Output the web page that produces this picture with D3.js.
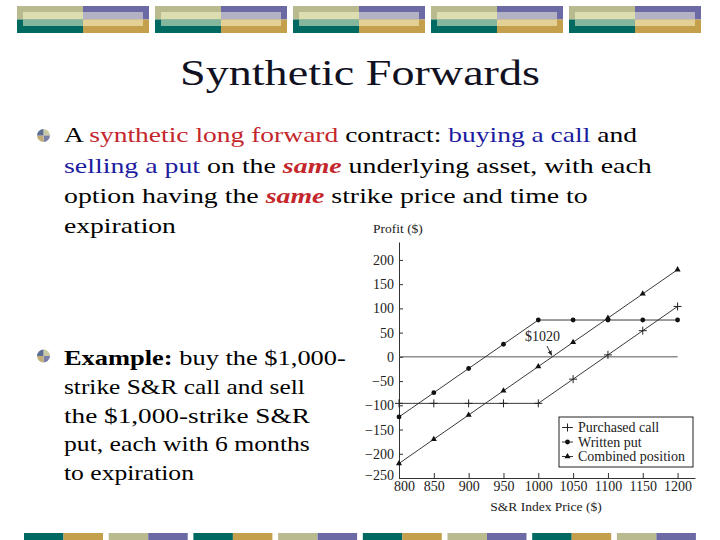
<!DOCTYPE html>
<html>
<head>
<meta charset="utf-8">
<script src="https://cdn.jsdelivr.net/npm/d3@7"></script>
<style>
body { margin: 0; background: #fff; }
svg { display: block; }
</style>
</head>
<body>
<script>
// data
var prices = [800, 850, 900, 950, 1000, 1050, 1100, 1150, 1200];
var purchasedCall = [-96, -96, -96, -96, -96, -46, 4, 54, 104];
var writtenPut = [-124, -74, -24, 26, 76, 76, 76, 76, 76];
var combinedPos = [-220, -170, -120, -70, -20, 30, 80, 130, 180];
var yTicks = [-250, -200, -150, -100, -50, 0, 50, 100, 150, 200];
var xTicks = [800, 850, 900, 950, 1000, 1050, 1100, 1150, 1200];
var legendLabels = ["Purchased call", "Written put", "Combined position"];
var breakEven = 1020;

var svgWidth = 720, svgHeight = 540;
var svg = d3.select("body").append("svg")
    .attr("width", svgWidth).attr("height", svgHeight);
svg.append("rect").attr("width", svgWidth).attr("height", svgHeight).attr("fill", "#fff");

var serif = "Liberation Serif";

// top decoration bar
var deco = svg.append("g");
d3.range(5).forEach(function(i) {
    var x0 = 17 + i * 138;
    deco.append("rect").attr("x", x0).attr("y", 6).attr("width", 66).attr("height", 13.5).attr("fill", "#b9ba8e");
    deco.append("rect").attr("x", x0).attr("y", 19.5).attr("width", 66).attr("height", 13.5).attr("fill", "#006a62");
    deco.append("rect").attr("x", x0 + 66).attr("y", 6).attr("width", 66).attr("height", 13.5).attr("fill", "#6b6aa5");
    deco.append("rect").attr("x", x0 + 66).attr("y", 19.5).attr("width", 66).attr("height", 13.5).attr("fill", "#c4a04c");
    deco.append("rect").attr("x", x0 + 6).attr("y", 12).attr("width", 60).attr("height", 7.5).attr("fill", "#dcdeb0");
    deco.append("rect").attr("x", x0 + 6).attr("y", 19.5).attr("width", 60).attr("height", 6.5).attr("fill", "#84b69e");
    deco.append("rect").attr("x", x0 + 66).attr("y", 12).attr("width", 60).attr("height", 7.5).attr("fill", "#b3b2c4");
    deco.append("rect").attr("x", x0 + 66).attr("y", 19.5).attr("width", 60).attr("height", 6.5).attr("fill", "#e2d094");
});

// bottom decoration bar
d3.range(8).forEach(function(i) {
    var x0 = 24 + i * 84.7;
    var c = i % 2 === 0 ? ["#006a62", "#c4a04c"] : ["#b9ba8e", "#6b6aa5"];
    deco.append("rect").attr("x", x0).attr("y", 533).attr("width", 39.5).attr("height", 7).attr("fill", c[0]);
    deco.append("rect").attr("x", x0 + 39.5).attr("y", 533).attr("width", 39.5).attr("height", 7).attr("fill", c[1]);
});

// title
svg.append("text")
    .attr("x", 180).attr("y", 85)
    .attr("textLength", 360).attr("lengthAdjust", "spacingAndGlyphs")
    .style("font-family", serif).style("font-size", "35px").attr("fill", "#111122")
    .text("Synthetic Forwards");

// bullets
function bullet(cx, cy) {
    var cols = ["#c9c9a4", "#7a7fa6", "#c2ad78", "#5d6e94"];
    var arc = d3.arc().innerRadius(0).outerRadius(6.5);
    var g = svg.append("g").attr("transform", "translate(" + cx + "," + cy + ")");
    [0, 1, 2, 3].forEach(function(k) {
        g.append("path")
            .attr("d", arc({startAngle: k * Math.PI / 2, endAngle: (k + 1) * Math.PI / 2}))
            .attr("fill", cols[k]);
    });
}
bullet(43.5, 135.5);
bullet(43.5, 356);

var red = "#c4262c", blue = "#1c1ca0";
var bodyLines = [
    [["A ", "#000"], ["synthetic long forward", red], [" contract: ", "#000"], ["buying a call", blue], [" and", "#000"]],
    [["selling a put", blue], [" on the ", "#000"], ["same", red, "it"], [" underlying asset, with each", "#000"]],
    [["option having the ", "#000"], ["same", red, "it"], [" strike price and time to", "#000"]],
    [["expiration", "#000"]]
];
var bodyBase = [142, 172.5, 203, 233];
var bodyWidth = [573, 588, 524, 112];
var exLines = [
    [["Example:", "#000", "b"], [" buy the $1,000-", "#000"]],
    [["strike S&R call and sell", "#000"]],
    [["the $1,000-strike S&R", "#000"]],
    [["put, each with 6 months", "#000"]],
    [["to expiration", "#000"]]
];
var exBase = [365, 394, 422.5, 451, 479.5];
var exWidth = [282, 241, 246, 246, 130];

// Century-Schoolbook-like width: stretch each line of Liberation Serif to the slide's width
function writeLines(lines, bases, widths) {
    lines.forEach(function(parts, i) {
        var t = svg.append("text")
            .attr("x", 0).attr("y", 0)
            .style("font-family", serif).style("font-size", "21px")
            .attr("xml:space", "preserve");
        parts.forEach(function(p) {
            var s = t.append("tspan").attr("fill", p[1]).text(p[0]);
            if (p[2] === "it") s.style("font-style", "italic").style("font-weight", "bold");
            if (p[2] === "b") s.style("font-weight", "bold");
        });
        var w = t.node().getComputedTextLength();
        t.attr("transform", "translate(64," + bases[i] + ") scale(" + (widths[i] / w) + ",1)");
    });
}
writeLines(bodyLines, bodyBase, bodyWidth);
writeLines(exLines, exBase, exWidth);

// chart
var chartFont = "Liberation Serif";
var xScale = d3.scaleLinear().domain([800, 1225]).range([399, 695]);
var yScale = d3.scaleLinear().domain([-250, 237]).range([478, 242]);
var chart = svg.append("g");

var bottomAxis = d3.axisBottom(xScale).tickValues(xTicks).tickFormat(d3.format("d"))
    .tickSize(-5).tickSizeOuter(0).tickPadding(3);
var leftAxis = d3.axisLeft(yScale).tickValues(yTicks).tickSize(-4).tickSizeOuter(0).tickPadding(5);

var xAxis = chart.append("g").attr("transform", "translate(0," + yScale(-250) + ")").call(bottomAxis);
var yAxis = chart.append("g").attr("transform", "translate(" + xScale(800) + ",0)").call(leftAxis);
[xAxis, yAxis].forEach(function(a) {
    a.selectAll("text").style("font-family", chartFont).style("font-size", "14px").attr("fill", "#222");
    a.selectAll("line, path").attr("stroke", "#333");
});
// first price label sits a little right of the axis corner, as on the slide
xAxis.selectAll(".tick text").filter(function(d) { return d === 800; }).attr("dx", 5);
yAxis.selectAll(".tick text").filter(function(d) { return d === -250; }).attr("dy", "0.1em");

// zero line
chart.append("line")
    .attr("x1", xScale(800)).attr("x2", xScale(1200))
    .attr("y1", yScale(0)).attr("y2", yScale(0))
    .attr("stroke", "#555").attr("stroke-width", 1);

var series = [purchasedCall, writtenPut, combinedPos];
var line = d3.line().x(function(d, i) { return xScale(prices[i]); }).y(function(d) { return yScale(d); });
series.forEach(function(vals) {
    chart.append("path").datum(vals)
        .attr("d", line).attr("fill", "none").attr("stroke", "#222")
        .attr("stroke-width", 0.9);
});

function marker(g, k, cx, cy) {
    if (k === 0) {
        g.append("path").attr("d", "M" + (cx - 4) + "," + cy + "H" + (cx + 4) + "M" + cx + "," + (cy - 4) + "V" + (cy + 4))
            .attr("stroke", "#222").attr("stroke-width", 1);
    } else if (k === 1) {
        g.append("circle").attr("cx", cx).attr("cy", cy).attr("r", 2.4).attr("fill", "#111");
    } else {
        g.append("path").attr("d", d3.symbol().type(d3.symbolTriangle).size(16)())
            .attr("transform", "translate(" + cx + "," + cy + ")").attr("fill", "#111");
    }
}
series.forEach(function(vals, k) {
    vals.forEach(function(v, i) { marker(chart, k, xScale(prices[i]), yScale(v)); });
});

// break-even annotation
svg.append("defs").append("marker")
    .attr("id", "arrow").attr("viewBox", "0 0 10 10").attr("refX", 9).attr("refY", 5)
    .attr("markerWidth", 6).attr("markerHeight", 6).attr("orient", "auto")
    .append("path").attr("d", "M0,1L10,5L0,9Z").attr("fill", "#222");
chart.append("text")
    .attr("x", 525).attr("y", 341)
    .style("font-family", chartFont).style("font-size", "14px").attr("fill", "#222")
    .text("$" + breakEven);
chart.append("line")
    .attr("x1", 547).attr("y1", 346)
    .attr("x2", xScale(breakEven) - 0.5).attr("y2", yScale(0) - 1.5)
    .attr("stroke", "#222").attr("stroke-width", 0.9).attr("marker-end", "url(#arrow)");

// axis titles
chart.append("text").attr("x", 373).attr("y", 233)
    .style("font-family", chartFont).style("font-size", "13.5px").attr("fill", "#222")
    .text("Profit ($)");
chart.append("text").attr("x", 546).attr("y", 511).attr("text-anchor", "middle")
    .style("font-family", chartFont).style("font-size", "13.5px").attr("fill", "#222")
    .text("S&R Index Price ($)");

// legend
var legend = chart.append("g");
legend.append("rect").attr("x", 559).attr("y", 417).attr("width", 134).attr("height", 50)
    .attr("fill", "#fff").attr("stroke", "#222").attr("stroke-width", 1);
legendLabels.forEach(function(lab, k) {
    var ly = 427.5 + k * 14.5;
    legend.append("line").attr("x1", 562).attr("x2", 573).attr("y1", ly).attr("y2", ly)
        .attr("stroke", "#222").attr("stroke-width", 0.9);
    marker(legend, k, 567.5, ly);
    legend.append("text").attr("x", 578).attr("y", ly + 4.5)
        .style("font-family", chartFont).style("font-size", "14px").attr("fill", "#222")
        .text(lab);
});
</script>
</body>
</html>
